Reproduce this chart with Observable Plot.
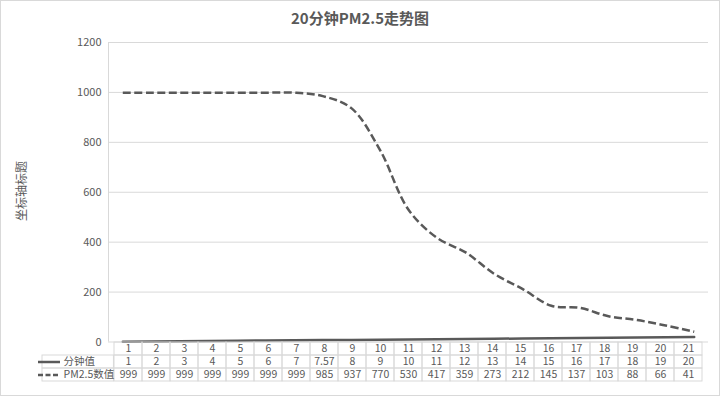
<!DOCTYPE html>
<html><head><meta charset="utf-8">
<script src="https://cdn.jsdelivr.net/npm/d3@7"></script>
<script src="https://cdn.jsdelivr.net/npm/@observablehq/plot@0.6"></script>
<style>
body{margin:0;background:#fff;font-family:"Noto Sans CJK SC","Noto Sans",sans-serif;}
#wrap{position:relative;width:720px;height:403px;overflow:hidden;}
#frame{position:absolute;left:0;top:0;width:718px;height:394px;border:1px solid #d9d9d9;}
#title{position:absolute;top:7px;left:0;width:720px;text-align:center;font-weight:bold;font-size:15px;color:#595959;line-height:22px;}
#ylab{position:absolute;left:20px;top:191px;transform:translate(-50%,-50%) rotate(-90deg);font-size:12px;color:#595959;white-space:nowrap;}
.p{position:absolute;left:0;}
</style></head>
<body>
<div id="wrap">
  <div id="frame"></div>
  <div id="title">20分钟PM2.5走势图</div>
  <div id="ylab">坐标轴标题</div>
  <div id="chartA" class="p" style="top:0"></div>
  <div id="chartB" class="p" style="top:340px"></div>
</div>
<script>
const minutes = [1,2,3,4,5,6,7,8,9,10,11,12,13,14,15,16,17,18,19,20,21];
const minuteVals = [1,2,3,4,5,6,7,7.57,8,9,10,11,12,13,14,15,16,17,18,19,20];
const pmVals = [999,999,999,999,999,999,999,985,937,770,530,417,359,273,212,145,137,103,88,66,41];
const yTicks = [0,200,400,600,800,1000,1200];
const seriesNames = ["分钟值","PM2.5数值"];

const data = minutes.map((m,i)=>({m, a:minuteVals[i], p:pmVals[i]}));
const grey = "#595959", light = "#d9d9d9";
const font = '"Noto Sans CJK SC","Noto Sans",sans-serif';

const A = Plot.plot({
  width:720, height:352, marginLeft:108, marginRight:12, marginTop:42, marginBottom:10.5,
  style:{background:"transparent", color:grey, fontFamily:font},
  x:{type:"linear", domain:[0.5,21.5], axis:null},
  y:{domain:[0,1200], axis:null},
  marks:[
    Plot.gridY(yTicks,{stroke:light, strokeOpacity:1}),
    Plot.axisY(yTicks,{tickSize:0, tickPadding:7, fontSize:11, label:null, fill:grey, tickFormat:d=>String(d)}),
    Plot.ruleX([0.5],{stroke:light}),
    Plot.line(data,{x:"m", y:"a", stroke:grey, strokeWidth:2.5}),
    Plot.line(data,{x:"m", y:"p", stroke:grey, strokeWidth:2.5, strokeDasharray:"8,3.5", strokeLinecap:"butt", curve:"catmull-rom"})
  ]
});
document.getElementById("chartA").appendChild(A);

const rows = ["cat","a","p"];
const cells = [];
data.forEach(d=>{
  cells.push({m:d.m,row:"cat",t:String(d.m)});
  cells.push({m:d.m,row:"a",t:String(d.a)});
  cells.push({m:d.m,row:"p",t:String(d.p)});
});
const legend = [{row:"a", name:seriesNames[0]},{row:"p", name:seriesNames[1]}];

const B = Plot.plot({
  width:720, height:44, marginLeft:108, marginRight:12, marginTop:1.5, marginBottom:2,
  style:{background:"transparent", color:grey, fontFamily:font},
  x:{type:"band", domain:minutes, padding:0, axis:null},
  y:{type:"band", domain:rows, padding:0, axis:null},
  marks:[
    Plot.cell(cells,{x:"m", y:"row", fill:"none", stroke:light}),
    Plot.cell(legend,{x:()=>1, y:"row", fill:"none", stroke:light, insetLeft:-72, insetRight:600/21}),
    Plot.text(cells,{x:"m", y:"row", text:"t", fontSize:10.5, fill:grey}),
    Plot.text(legend,{y:"row", text:"name", frameAnchor:"left", dx:-45, textAnchor:"start", fontSize:10.5, fill:grey}),
    Plot.ruleY(legend.slice(0,1),{y:"row", stroke:grey, strokeWidth:2.5, strokeLinecap:"butt", insetLeft:-70, insetRight:648}),
    Plot.ruleY(legend.slice(1),{y:"row", stroke:grey, strokeWidth:2.5, strokeDasharray:"5,2.5", strokeLinecap:"butt", insetLeft:-70, insetRight:648})
  ]
});
document.getElementById("chartB").appendChild(B);
</script>
</body></html>
